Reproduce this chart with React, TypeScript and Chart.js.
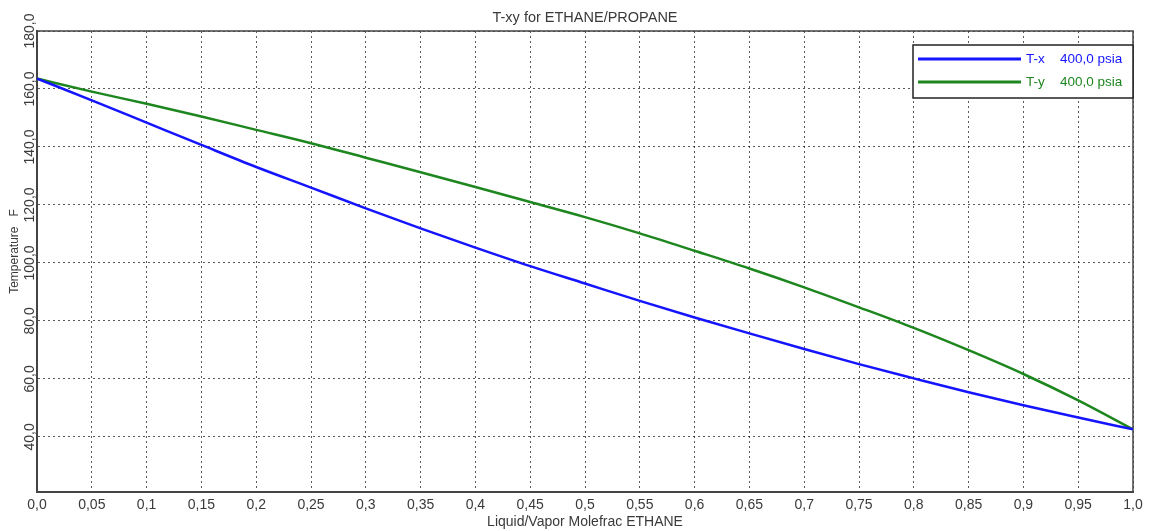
import React, { useEffect, useRef } from 'react';
import { Chart, registerables } from 'chart.js';

Chart.register(...registerables);

const chartTitle = 'T-xy for ETHANE/PROPANE';
const xAxisTitle = 'Liquid/Vapor Molefrac ETHANE';
const yAxisTitle = 'Temperature   F';

const moleFrac = [0, 0.05, 0.1, 0.15, 0.2, 0.25, 0.3, 0.35, 0.4, 0.45, 0.5, 0.55, 0.6, 0.65, 0.7, 0.75, 0.8, 0.85, 0.9, 0.95, 1.0];
const tempTx = [163.6, 156.1, 148.4, 140.7, 133.1, 126.0, 118.8, 111.9, 105.3, 98.9, 92.9, 86.9, 81.2, 75.7, 70.3, 65.1, 60.2, 55.4, 50.9, 46.7, 42.6];
const tempTy = [163.6, 159.1, 154.9, 150.5, 145.9, 141.3, 136.3, 131.3, 126.2, 121.0, 115.8, 110.2, 104.2, 98.1, 91.6, 84.7, 77.6, 69.9, 61.7, 52.6, 42.6];

const xTickValues = [0, 0.05, 0.1, 0.15, 0.2, 0.25, 0.3, 0.35, 0.4, 0.45, 0.5, 0.55, 0.6, 0.65, 0.7, 0.75, 0.8, 0.85, 0.9, 0.95, 1.0];
const xTickLabels = ['0,0', '0,05', '0,1', '0,15', '0,2', '0,25', '0,3', '0,35', '0,4', '0,45', '0,5', '0,55', '0,6', '0,65', '0,7', '0,75', '0,8', '0,85', '0,9', '0,95', '1,0'];
const yTickValues = [40, 60, 80, 100, 120, 140, 160, 180];
const yTickLabels = ['40,0', '60,0', '80,0', '100,0', '120,0', '140,0', '160,0', '180,0'];

const seriesNames = ['T-x', 'T-y'];
const seriesColors = ['#1414ff', '#1e861e'];
const pressureLabel = '400,0 psia';

const FONT = 'Arial, "Liberation Sans", sans-serif';
const TEXT_COLOR = '#3a3a3a';

const overlayPlugin = {
  id: 'overlay',
  beforeDatasetsDraw(chart: any) {
    const { ctx, chartArea } = chart;
    ctx.save();
    ctx.strokeStyle = '#444';
    ctx.lineWidth = 1.5;
    ctx.beginPath();
    ctx.moveTo(chartArea.left, chartArea.top);
    ctx.lineTo(chartArea.right, chartArea.top);
    ctx.lineTo(chartArea.right, chartArea.bottom);
    ctx.stroke();
    ctx.restore();
  },
  afterDraw(chart: any) {
    const { ctx, chartArea } = chart;
    const yScale = chart.scales.y;
    ctx.save();
    // y tick labels (rotated)
    ctx.font = `14px ${FONT}`;
    ctx.fillStyle = TEXT_COLOR;
    ctx.textAlign = 'center';
    ctx.textBaseline = 'middle';
    yTickValues.forEach((v, i) => {
      const py = yScale.getPixelForValue(v);
      ctx.save();
      ctx.translate(30, py);
      ctx.rotate(-Math.PI / 2);
      ctx.fillText(yTickLabels[i], 0, 0);
      ctx.restore();
    });
    // y axis title
    ctx.font = `12px ${FONT}`;
    ctx.save();
    ctx.translate(15, (chartArea.top + chartArea.bottom) / 2 - 10);
    ctx.rotate(-Math.PI / 2);
    ctx.fillText(yAxisTitle, 0, 0);
    ctx.restore();

    // legend
    const boxRight = chartArea.right;
    const boxLeft = boxRight - 220;
    const boxTop = chartArea.top + 14;
    const boxBottom = boxTop + 53;
    ctx.fillStyle = '#ffffff';
    ctx.fillRect(boxLeft, boxTop, boxRight - boxLeft, boxBottom - boxTop);
    ctx.strokeStyle = '#222';
    ctx.lineWidth = 1.5;
    ctx.strokeRect(boxLeft, boxTop, boxRight - boxLeft, boxBottom - boxTop);
    ctx.font = `13.5px ${FONT}`;
    ctx.textAlign = 'left';
    ctx.textBaseline = 'middle';
    seriesNames.forEach((name, i) => {
      const ry = boxTop + 14 + i * 23;
      ctx.strokeStyle = seriesColors[i];
      ctx.lineWidth = 3;
      ctx.beginPath();
      ctx.moveTo(boxLeft + 5, ry);
      ctx.lineTo(boxLeft + 108, ry);
      ctx.stroke();
      ctx.fillStyle = seriesColors[i];
      ctx.fillText(name, boxLeft + 113, ry);
      ctx.fillText(pressureLabel, boxLeft + 147, ry);
    });
    ctx.restore();
  },
};

export default function App() {
  const canvasRef = useRef<HTMLCanvasElement | null>(null);

  useEffect(() => {
    const canvas = canvasRef.current;
    if (!canvas) return;
    const gridDefaults = {
      color: 'rgba(0,0,0,0.65)',
      lineWidth: 1,
      drawTicks: false,
    };
    const chart = new Chart(canvas, {
      type: 'line',
      data: {
        datasets: [
          {
            label: `${seriesNames[0]}   ${pressureLabel}`,
            data: moleFrac.map((x, i) => ({ x, y: tempTx[i] })),
            borderColor: seriesColors[0],
            backgroundColor: seriesColors[0],
            borderWidth: 2.5,
            pointRadius: 0,
            cubicInterpolationMode: 'monotone',
          },
          {
            label: `${seriesNames[1]}   ${pressureLabel}`,
            data: moleFrac.map((x, i) => ({ x, y: tempTy[i] })),
            borderColor: seriesColors[1],
            backgroundColor: seriesColors[1],
            borderWidth: 2.5,
            pointRadius: 0,
            cubicInterpolationMode: 'monotone',
          },
        ],
      },
      options: {
        responsive: false,
        animation: false,
        devicePixelRatio: 1,
        layout: { padding: { left: 0, right: 21, top: 0, bottom: 0 } },
        plugins: {
          legend: { display: false },
          tooltip: { enabled: false },
          title: {
            display: true,
            text: chartTitle,
            fullSize: false,
            color: TEXT_COLOR,
            font: { family: FONT, size: 14.5, weight: 'normal' },
            padding: { top: 9, bottom: 4.6 },
          },
        },
        scales: {
          x: {
            type: 'linear',
            min: 0,
            max: 1,
            afterBuildTicks: (scale: any) => {
              scale.ticks = xTickValues.map((v) => ({ value: v }));
            },
            afterFit: (scale: any) => {
              scale.height = 39;
            },
            ticks: {
              autoSkip: false,
              maxRotation: 0,
              minRotation: 0,
              padding: 5,
              color: TEXT_COLOR,
              font: { family: FONT, size: 14 },
              callback: (value: any) => {
                const idx = xTickValues.findIndex((v) => Math.abs(v - Number(value)) < 1e-9);
                return idx >= 0 ? xTickLabels[idx] : '';
              },
            },
            grid: gridDefaults,
            border: { display: true, color: '#444', width: 2, dash: [2, 3] },
            title: {
              display: true,
              text: xAxisTitle,
              color: TEXT_COLOR,
              font: { family: FONT, size: 14 },
              padding: { top: 0, bottom: 0.5 },
            },
          },
          y: {
            type: 'linear',
            min: 21,
            max: 180,
            afterBuildTicks: (scale: any) => {
              scale.ticks = yTickValues.map((v) => ({ value: v }));
            },
            afterFit: (scale: any) => {
              scale.width = 37;
            },
            ticks: { display: false },
            grid: gridDefaults,
            border: { display: true, color: '#444', width: 2, dash: [2, 3] },
          },
        },
      } as any,
      plugins: [overlayPlugin],
    });
    return () => chart.destroy();
  }, []);

  return (
    <div style={{ position: 'fixed', left: 0, top: 0, width: 1154, height: 531, background: '#ffffff' }}>
      <canvas ref={canvasRef} width={1154} height={531} style={{ display: 'block' }} />
    </div>
  );
}
